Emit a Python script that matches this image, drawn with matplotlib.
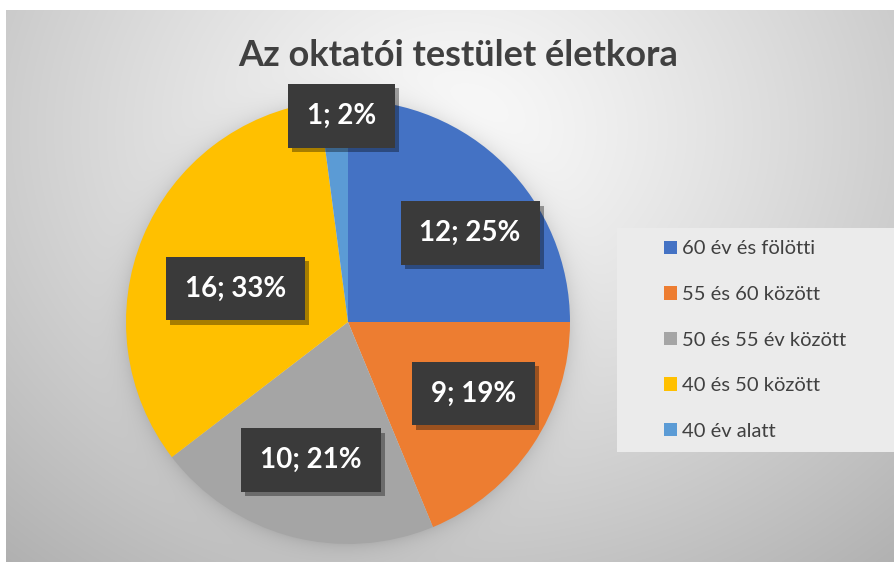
import numpy as np
import matplotlib
matplotlib.use("Agg")
import matplotlib.pyplot as plt
import matplotlib.patheffects as pe

title = "Az oktatói testület életkora"
categories = ["60 év és fölötti", "55 és 60 között", "50 és 55 év között",
              "40 és 50 között", "40 év alatt"]
values = [12, 9, 10, 16, 1]
percents = [25, 19, 21, 33, 2]
colors = ["#4472C4", "#ED7D31", "#A5A5A5", "#FFC000", "#5B9BD5"]
label_dist = [0.68, 0.65, 0.645, 0.53, 0.93]
label_shift = [-9, 4, 0, 6, -2]  # degrees

W, H = 895, 562
fig = plt.figure(figsize=(W / 100, H / 100), dpi=100)
fig.patch.set_facecolor("white")

# background gradient
bg = fig.add_axes([6 / W, 0, (W - 6) / W, (H - 10) / H])
bg.set_axis_off()
bw, bh = W - 6, H - 10
yy, xx = np.mgrid[0:bh, 0:bw]
cx, cy = 450, 120
d = np.sqrt(((xx - cx) / 560.0) ** 2 + ((yy - cy) / 470.0) ** 2)
val = 250 - 58 * np.clip(d, 0, 1.3) ** 1.2
# pie shadow
pcx, pcy, R = 342, 312, 222
dp = np.sqrt((xx - pcx) ** 2 + (yy - pcy) ** 2)
val -= 22 * np.exp(-np.clip(dp - R, 0, None) / 10.0) * (dp > R - 5)
val = np.clip(val, 0, 255) / 255.0
img = np.dstack([val, val, val])
bg.imshow(img, extent=[0, 1, 0, 1], aspect="auto", origin="upper")
bg.set_xlim(0, 1)
bg.set_ylim(0, 1)

# pie
r = 222
cxp, cyp = 348, H - 322
ax = fig.add_axes([(cxp - r) / W, (cyp - r) / H, 2 * r / W, 2 * r / H])
ax.set_axis_off()
wedges, _ = ax.pie(values, colors=colors, startangle=90, counterclock=False,
                   radius=1.0, wedgeprops=dict(linewidth=0))
ax.set_xlim(-1, 1)
ax.set_ylim(-1, 1)
ax.set_aspect("equal")

for w, v, p, ld, sh in zip(wedges, values, percents, label_dist, label_shift):
    ang = np.deg2rad((w.theta1 + w.theta2) / 2 + sh)
    t = ax.text(ld * np.cos(ang), ld * np.sin(ang), f"{v}; {p}%",
                ha="center", va="center", color="white", fontsize=20,
                fontweight="bold", family=["Lato", "DejaVu Sans"],
                bbox=dict(boxstyle="square,pad=0.68", facecolor="#3a3a3a",
                          edgecolor="none"))
    t.get_bbox_patch().set_path_effects(
        [pe.withSimplePatchShadow(offset=(3, -3), shadow_rgbFace="black", alpha=0.35)])

fig.text(458 / W, 1 - 55 / H, title, ha="center", va="center", fontsize=26,
         fontweight="bold", color="#404040", family=["Lato", "DejaVu Sans"])

# legend
lax = fig.add_axes([617 / W, 1 - 452 / H, (W - 617) / W, (452 - 228) / H])
lax.set_axis_off()
lax.add_patch(plt.Rectangle((0, 0), 1, 1, transform=lax.transAxes,
                            facecolor="#ebebeb", edgecolor="none"))
leg = lax.legend(wedges, categories, loc="center left", bbox_to_anchor=(0.14, 0.5),
                 frameon=False, labelspacing=1.42, borderaxespad=0,
                 handlelength=0.65, handleheight=0.65, handletextpad=0.25,
                 prop=dict(family=["Lato", "DejaVu Sans"], size=14.5))
for txt in leg.get_texts():
    txt.set_color("#404040")

fig.savefig("out.png", dpi=100)
